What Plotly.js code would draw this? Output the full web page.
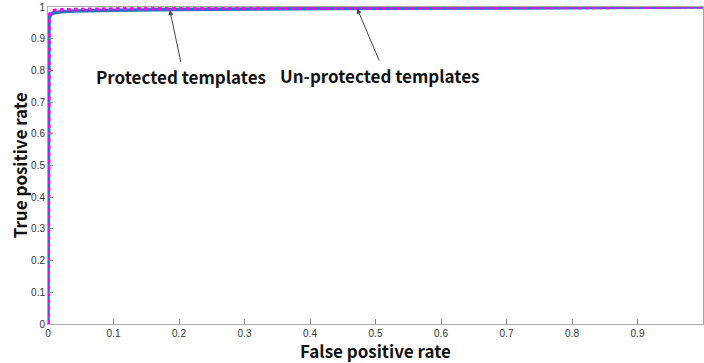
<!DOCTYPE html>
<html>
<head>
<meta charset="utf-8">
<script src="https://cdn.plot.ly/plotly-3.0.1.min.js"></script>
<style>html,body{margin:0;padding:0;background:#fff;}#chart{width:704px;height:363px;}</style>
</head>
<body>
<div id="chart"></div>
<script>
// Protected templates ROC (blue, solid)
const protFPR = [0, 0.0003, 0.0008, 0.0015, 0.003, 0.005, 0.008, 0.012, 0.02, 0.04, 0.07, 0.1, 0.2, 0.3, 0.5, 0.7, 0.9, 1];
const protTPR = [0, 0.90, 0.945, 0.962, 0.972, 0.978, 0.981, 0.983, 0.985, 0.987, 0.989, 0.990, 0.992, 0.994, 0.996, 0.997, 0.998, 1];
// Un-protected templates ROC (magenta, dotted)
const unprotFPR = [0, 0.0003, 0.0008, 0.0015, 0.003, 0.005, 0.008, 0.012, 0.02, 0.04, 0.07, 0.1, 0.2, 0.3, 0.5, 0.7, 0.9, 1];
const unprotTPR = [0, 0.91, 0.955, 0.970, 0.980, 0.985, 0.988, 0.990, 0.991, 0.992, 0.993, 0.994, 0.995, 0.996, 0.997, 0.998, 0.999, 1];
const xTicks = [0, 0.1, 0.2, 0.3, 0.4, 0.5, 0.6, 0.7, 0.8, 0.9, 1];
const xTickText = ['0', '0.1', '0.2', '0.3', '0.4', '0.5', '0.6', '0.7', '0.8', '0.9', '1'];
const yTicks = [0, 0.1, 0.2, 0.3, 0.4, 0.5, 0.6, 0.7, 0.8, 0.9, 1];
const yTickText = ['0', '0.1', '0.2', '0.3', '0.4', '0.5', '0.6', '0.7', '0.8', '0.9', '1'];
const labels = ['Protected templates', 'Un-protected templates'];
const xTitle = 'False positive rate';
const yTitle = 'True positive rate';
const arrowTips = [[0.186, 0.99], [0.472, 0.995]];

const jpFont = '"Noto Sans CJK JP", "Noto Sans", sans-serif';
const tickFont = {family: 'Liberation Sans, Arial, sans-serif', size: 10, color: '#333'};

const traces = [
  {x: protFPR, y: protTPR, mode: 'lines', line: {color: '#1f77b4', width: 3.5}, name: labels[0], cliponaxis: false},
  {x: unprotFPR, y: unprotTPR, mode: 'lines', line: {color: '#ff00ff', width: 3.5, dash: 'dot'}, name: labels[1], cliponaxis: false}
];

const layout = {
  width: 704, height: 363,
  margin: {l: 48, r: 1, t: 7, b: 39},
  showlegend: false,
  paper_bgcolor: '#fff', plot_bgcolor: '#fff',
  xaxis: {
    range: [0, 1], tickvals: xTicks, ticktext: xTickText, ticks: 'inside', ticklen: 5,
    tickcolor: '#888', showline: true, linecolor: '#aaa', linewidth: 1, mirror: true,
    showgrid: false, zeroline: false, tickfont: tickFont, automargin: false
  },
  yaxis: {
    range: [0, 1], tickvals: yTicks, ticktext: yTickText, ticks: 'inside', ticklen: 5,
    tickcolor: '#888', showline: true, linecolor: '#aaa', linewidth: 1, mirror: true,
    showgrid: false, zeroline: false, tickfont: tickFont, automargin: false
  },
  annotations: [
    {x: arrowTips[0][0], y: arrowTips[0][1], xref: 'x', yref: 'y', text: '<b>' + labels[0] + '</b>',
     showarrow: true, arrowhead: 2, arrowsize: 1, arrowwidth: 1, arrowcolor: '#444',
     ax: 11, ay: 52, xanchor: 'center', yanchor: 'top', font: {family: jpFont, size: 17, color: '#111'}},
    {x: arrowTips[1][0], y: arrowTips[1][1], xref: 'x', yref: 'y', text: '<b>' + labels[1] + '</b>',
     showarrow: true, arrowhead: 2, arrowsize: 1, arrowwidth: 1, arrowcolor: '#444',
     ax: 22, ay: 52, xanchor: 'center', yanchor: 'top', font: {family: jpFont, size: 17, color: '#111'}},
    {x: 0.5, y: 0, xref: 'paper', yref: 'paper', yshift: -26, text: '<b>' + xTitle + '</b>', showarrow: false,
     xanchor: 'center', yanchor: 'middle', borderpad: 0, font: {family: jpFont, size: 17, color: '#111'}},
    {x: -0.043, y: 0.5, xref: 'paper', yref: 'paper', text: '<b>' + yTitle + '</b>', showarrow: false,
     textangle: -90, xanchor: 'center', yanchor: 'middle', borderpad: 0, font: {family: jpFont, size: 17, color: '#111'}}
  ]
};

Plotly.newPlot('chart', traces, layout, {displayModeBar: false, staticPlot: true});
</script>
</body>
</html>
